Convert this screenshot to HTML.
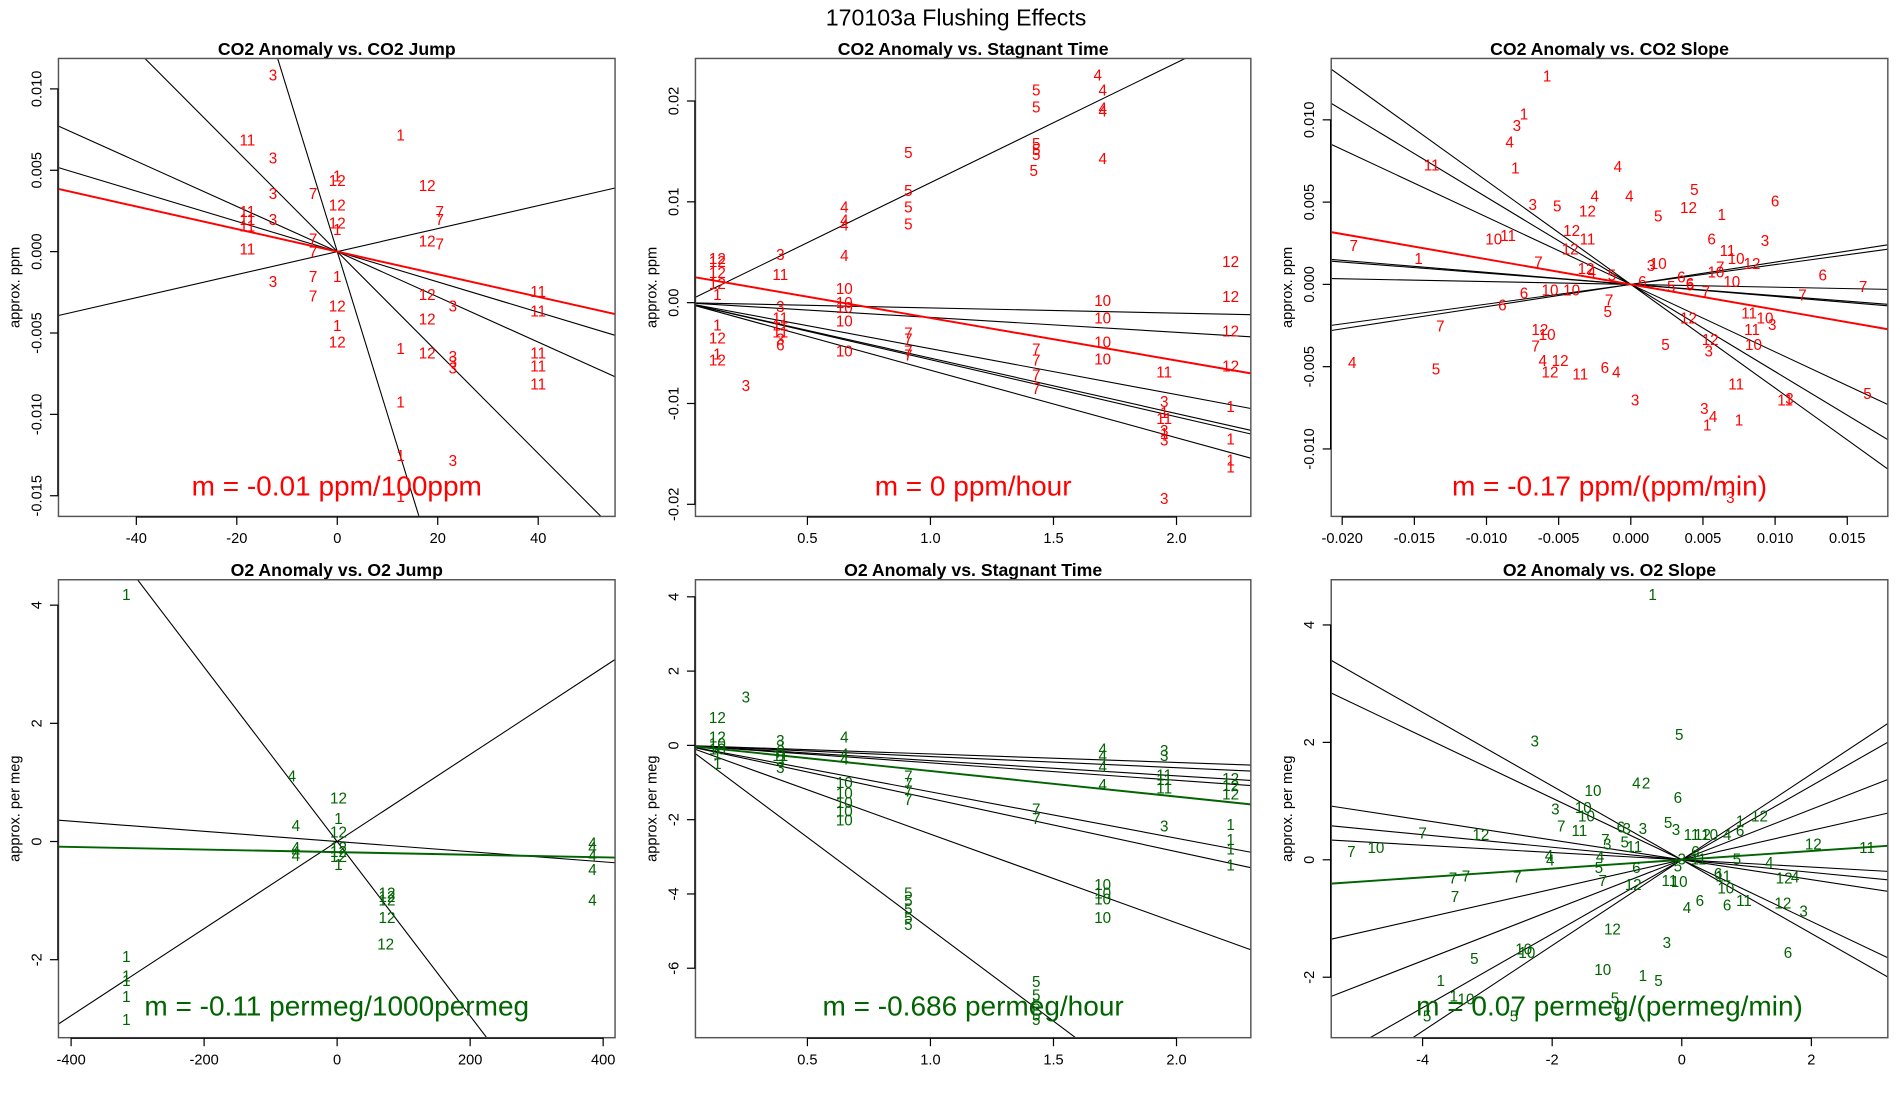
<!DOCTYPE html>
<html><head><meta charset="utf-8"><style>
html,body{margin:0;padding:0;background:#fff;overflow:hidden;width:1900px;height:1100px;}
svg{display:block;font-family:"Liberation Sans",sans-serif;}
</style></head><body>
<svg id="fig" width="1900" height="1100" viewBox="0 0 1560 903.16" preserveAspectRatio="none" xmlns="http://www.w3.org/2000/svg">
<rect width="1560" height="904" fill="#fff"/>
<text x="785" y="21" font-size="19" text-anchor="middle">170103a   Flushing Effects</text>
</svg>
<script>
// ---------- Panel 1: CO2 Anomaly vs CO2 Jump ----------
const p1x=[-12.8,-17.9,-12.8,12.6,0,0,-12.8,-4.8,17.9,0,20.4,20.4,-17.9,-17.9,-17.9,-12.8,0,0,-4.8,17.9,20.4,-4.8,-17.9,-12.8,-4.8,0,-4.8,17.9,0,23,40,40,17.9,0,0,12.6,17.9,23,23,23,40,40,40,12.6,12.6,23,12.6];
const p1y=[.0108,.0068,.0057,.0071,.0046,.0043,.0035,.0035,.004,.0028,.0024,.0019,.0024,.0019,.0015,.0019,.0017,.0013,.0007,.0006,.0004,-.0001,.0001,-.0019,-.0016,-.0016,-.0028,-.0027,-.0034,-.0034,-.0025,-.0037,-.0042,-.0046,-.0056,-.006,-.0063,-.0065,-.0068,-.0072,-.0063,-.0071,-.0082,-.0093,-.0126,-.0129,-.0151];
const p1lab=["3","11","3","1","1","12","3","7","12","12","7","7","11","11","11","3","12","1","7","12","7","7","11","3","7","1","7","12","12","3","11","11","12","1","12","1","12","3","3","3","11","11","11","1","1","3","1"];
const p1slopes=[-0.00031,-0.001,-0.000139,-0.000093,0.0000707];
const p1fit=[-0.0000694,0];
// ---------- Panel 2: CO2 Anomaly vs Stagnant Time ----------
const p2x=[1.68,1.70,1.43,1.43,1.70,1.70,.91,1.43,1.43,1.43,1.70,1.42,.91,.65,.91,.65,.65,.91,.65,.134,.134,.134,.134,.134,.39,.39,.65,.65,.65,.65,.65,.39,.39,.39,.39,.39,.39,.134,.134,.134,.134,.25,.91,.91,.91,.91,1.43,1.43,1.43,1.43,1.70,1.70,1.70,1.70,2.22,2.22,2.22,2.22,1.95,1.95,1.95,1.95,1.95,1.95,1.95,2.22,2.22,2.22,2.22,1.95];
const p2y=[.0225,.021,.021,.0193,.0192,.0189,.0148,.0157,.0151,.0146,.0142,.013,.011,.0094,.0094,.0081,.0076,.0077,.0046,.0043,.004,.0029,.0018,.0007,.0047,.0027,.0013,-.0001,-.0006,-.0019,-.0049,-.0005,-.0016,-.0023,-.003,-.0037,-.0043,-.0023,-.0036,-.0052,-.0058,-.0083,-.0031,-.0037,-.0049,-.0053,-.0047,-.0058,-.0073,-.0086,.0001,-.0016,-.004,-.0057,.004,.0005,-.0029,-.0064,-.007,-.0099,-.011,-.0116,-.0128,-.0131,-.0137,-.0104,-.0136,-.0157,-.0164,-.0195];
const p2lab=["4","4","5","5","4","4","5","5","5","5","4","5","5","4","5","4","4","5","4","12","12","12","12","1","3","11","10","10","10","10","10","3","11","11","11","3","6","1","12","1","12","3","7","7","7","7","7","7","7","7","10","10","10","10","12","12","12","12","11","3","1","11","3","1","3","1","1","1","1","3"];
const p2slopes=[0.0119,-0.00052,-0.00147,-0.00456,-0.00566,-0.0055,-0.0067];
const p2fit=[-0.00422,0.0027];
// ---------- Panel 3: CO2 Anomaly vs CO2 Slope ----------
const p3x=[-.0058,-.0074,-.0079,-.0084,-.0138,-.008,-.0009,.0044,.01,-.0068,-.0051,-.0025,-.0001,-.003,.0019,.004,.0063,-.0041,-.003,-.0042,-.0095,-.0085,.0056,.0093,.0067,.0073,.0084,-.0064,-.0031,-.0027,-.0013,.0014,.0019,.0008,.0035,.0041,.0041,.0028,.0059,.0062,.007,.0052,-.0147,-.0192,.0133,.0161,.0119,-.0056,-.0041,-.0074,-.0089,-.0015,-.0016,.004,-.0132,-.0063,-.0058,-.0066,.0082,.0093,.0098,.0084,.0055,.0085,.0024,.0054,-.0193,-.0135,-.0061,-.0049,-.0056,-.0035,-.0018,-.001,.0073,.011,.0107,.0164,.0003,.0051,.0057,.0053,.0075,.0069];
const p3y=[.0126,.0103,.0096,.0086,.0072,.007,.0071,.0057,.005,.0048,.0047,.0053,.0053,.0044,.0041,.0046,.0042,.0032,.0027,.0021,.0027,.0029,.0027,.0026,.002,.0015,.0012,.0013,.0009,.0007,.0005,.0011,.0012,.0001,.0004,0,-.0001,-.0002,.0007,.001,.0001,-.0005,.0015,.0023,.0005,-.0002,-.0007,-.0004,-.0004,-.0006,-.0013,-.001,-.0017,-.0021,-.0026,-.0028,-.0031,-.0038,-.0018,-.0021,-.0025,-.0028,-.0034,-.0037,-.0037,-.0041,-.0048,-.0052,-.0047,-.0047,-.0054,-.0055,-.0051,-.0054,-.0061,-.007,-.0071,-.0067,-.0071,-.0076,-.0081,-.0086,-.0083,-.013];
const p3lab=["1","1","3","4","11","1","4","5","6","3","5","4","4","12","5","12","1","12","11","12","10","11","6","3","11","10","12","7","12","4","5","3","10","6","6","6","5","5","10","7","10","7","1","7","6","7","7","10","10","6","6","7","5","12","7","12","10","7","11","10","3","11","12","10","5","3","4","5","4","12","12","11","6","4","11","3","11","5","3","3","4","1","1","3"];
const p3slopes=[-0.63,-0.53,-0.41,-0.073,-0.068,-0.017,0.12,0.135];
const p3fit=[-0.153,0];
// ---------- Panel 4: O2 Anomaly vs O2 Jump ----------
const p4x=[-317,-68,2,2,-62,2,-62,-62,-62,2,2,2,2,75,75,75,75,73,384,384,384,384,384,-317,-317,-317,-317,-317];
const p4y=[4.16,1.09,.72,.37,.25,.14,-.12,-.19,-.25,-.12,-.19,-.27,-.41,-.89,-.95,-1.01,-1.3,-1.75,-.04,-.12,-.25,-.49,-1.01,-1.96,-2.29,-2.37,-2.64,-3.03];
const p4lab=["1","4","12","1","4","12","4","4","4","12","12","12","1","12","12","12","12","12","4","4","4","4","4","1","1","1","1","1"];
const p4slopes=[-0.01476,0.00737,-0.00086];
const p4fit=[-0.00022,-0.18];
// ---------- Panel 5: O2 Anomaly vs Stagnant Time ----------
const p5x=[.25,.134,.134,.134,.134,.134,.134,.39,.39,.39,.39,.39,.39,.65,.65,.65,.65,.65,.65,.65,.65,.91,.91,.91,.91,1.43,1.43,1.70,1.70,1.70,1.70,1.95,1.95,1.95,1.95,1.95,2.22,2.22,2.22,1.95,2.22,2.22,2.22,2.22,1.70,1.70,1.70,1.70,.91,.91,.91,.91,.91,1.43,1.43,1.43,1.43,1.43];
const p5y=[1.28,.72,.2,.03,-.13,-.26,-.52,.1,-.03,-.16,-.3,-.43,-.62,.2,-.26,-.39,-1.02,-1.31,-1.57,-1.8,-2.03,-.85,-1.05,-1.25,-1.48,-1.74,-2.0,-.13,-.3,-.59,-1.08,-.16,-.3,-.82,-.95,-1.18,-.92,-1.11,-1.34,-2.2,-2.16,-2.56,-2.82,-3.25,-3.77,-4.0,-4.16,-4.66,-4.0,-4.2,-4.43,-4.66,-4.85,-6.39,-6.75,-7.02,-7.28,-7.41];
const p5lab=["3","12","12","10","10","1","1","3","3","6","11","3","3","4","4","4","10","10","10","10","10","7","7","7","7","7","7","4","4","4","4","3","3","11","11","11","12","12","12","3","1","1","1","1","10","10","10","10","5","5","5","5","5","5","5","5","5","5"];
const p5slopes=[-4.95,-2.39,-1.43,-1.25,-0.47,-0.41,-0.30,-0.23];
const p5fit=[-0.69,0];
// ---------- Panel 6: O2 Anomaly vs O2 Slope ----------
const p6x=[-.45,-2.27,-.04,-1.37,-.7,-.55,-.06,-1.95,-1.52,-1.47,-1.86,-1.58,-4.0,-3.1,-.94,-.85,-.6,-.21,-.09,.15,.32,.43,.7,.9,1.2,.9,-5.1,-4.72,-1.18,-.88,-.73,-1.15,-2.05,-2.03,-1.26,.21,.26,0,-.06,.56,.85,1.35,2.03,2.86,-1.28,-.7,-3.53,-3.33,-2.54,-3.5,-1.22,-.75,-.19,-.04,.28,.64,.68,.7,.96,.08,1.58,1.75,1.56,1.88,-1.07,-.23,1.64,-3.2,-2.44,-2.39,-1.22,-.6,-.36,-3.72,-3.52,-3.33,-3.93,-2.59,-1.03,-.98];
const p6y=[4.5,2.01,2.12,1.16,1.29,1.29,1.04,.85,.87,.73,.56,.48,.44,.41,.54,.52,.52,.62,.5,.41,.41,.41,.41,.64,.73,.48,.12,.19,.33,.29,.21,.25,.06,-.02,.04,.12,0,0,-.12,-.25,0,-.06,.25,.19,-.15,-.15,-.33,-.29,-.31,-.64,-.37,-.44,-.37,-.39,-.71,-.29,-.5,-.79,-.71,-.83,-.33,-.31,-.75,-.89,-1.2,-1.43,-1.6,-1.7,-1.54,-1.6,-1.89,-1.99,-2.07,-2.07,-2.34,-2.39,-2.68,-2.68,-2.37,-2.63];
const p6lab=["1","3","5","10","4","2","6","3","10","10","7","11","7","12","6","3","3","5","3","11","12","10","4","1","12","6","7","10","7","5","11","3","4","4","4","6","11","3","5","6","5","4","12","11","5","6","7","7","7","7","7","12","11","10","6","11","10","6","11","4","12","4","12","3","12","3","6","5","10","10","10","1","5","1","1","10","5","5","5","1"];
const p6slopes=[-0.628,-0.525,-0.169,-0.107,-0.062,0.25,0.43,0.63,0.73];
const p6fit=[0.075,0];

const RED="#ff0000", GREEN="#006400";
const panels=[
 {id:"co2-jump",title:"CO2 Anomaly vs. CO2 Jump",box:[48,48,505,424],xd:[-55.5,55.3],yd:[-0.01627,0.01187],xt:[-40,-20,0,20,40],xtl:["-40","-20","0","20","40"],yt:[-0.015,-0.01,-0.005,0,0.005,0.01],ytl:["-0.015","-0.010","-0.005","0.000","0.005","0.010"],ylab:"approx. ppm",xs:p1x,ys:p1y,lab:p1lab,sl:p1slopes,fit:p1fit,col:RED,m:"m = -0.01 ppm/100ppm",my:399},
 {id:"co2-stagnant",title:"CO2 Anomaly vs. Stagnant Time",box:[571,48,1027,424],xd:[0.045,2.302],yd:[-0.0212,0.02422],xt:[0.5,1,1.5,2],xtl:["0.5","1.0","1.5","2.0"],yt:[-0.02,-0.01,0,0.01,0.02],ytl:["-0.02","-0.01","0.00","0.01","0.02"],ylab:"approx. ppm",xs:p2x,ys:p2y,lab:p2lab,sl:p2slopes,fit:p2fit,col:RED,m:"m = 0 ppm/hour",my:399},
 {id:"co2-slope",title:"CO2 Anomaly vs. CO2 Slope",box:[1093,48,1550,424],xd:[-0.02076,0.01781],yd:[-0.0141,0.01373],xt:[-0.02,-0.015,-0.01,-0.005,0,0.005,0.01,0.015],xtl:["-0.020","-0.015","-0.010","-0.005","0.000","0.005","0.010","0.015"],yt:[-0.01,-0.005,0,0.005,0.01],ytl:["-0.010","-0.005","0.000","0.005","0.010"],ylab:"approx. ppm",xs:p3x,ys:p3y,lab:p3lab,sl:p3slopes,fit:p3fit,col:RED,m:"m = -0.17 ppm/(ppm/min)",my:399},
 {id:"o2-jump",title:"O2 Anomaly vs. O2 Jump",box:[48,476,505,852],xd:[-419,417.9],yd:[-3.32,4.43],xt:[-400,-200,0,200,400],xtl:["-400","-200","0","200","400"],yt:[-2,0,2,4],ytl:["-2","0","2","4"],ylab:"approx. per meg",xs:p4x,ys:p4y,lab:p4lab,sl:p4slopes,fit:p4fit,col:GREEN,m:"m = -0.11 permeg/1000permeg",my:826},
 {id:"o2-stagnant",title:"O2 Anomaly vs. Stagnant Time",box:[571,476,1027,852],xd:[0.045,2.302],yd:[-7.87,4.46],xt:[0.5,1,1.5,2],xtl:["0.5","1.0","1.5","2.0"],yt:[-6,-4,-2,0,2,4],ytl:["-6","-4","-2","0","2","4"],ylab:"approx. per meg",xs:p5x,ys:p5y,lab:p5lab,sl:p5slopes,fit:p5fit,col:GREEN,m:"m = -0.686 permeg/hour",my:826},
 {id:"o2-slope",title:"O2 Anomaly vs. O2 Slope",box:[1093,476,1550,852],xd:[-5.41,3.18],yd:[-3.03,4.77],xt:[-4,-2,0,2],xtl:["-4","-2","0","2"],yt:[-2,0,2,4],ytl:["-2","0","2","4"],ylab:"approx. per meg",xs:p6x,ys:p6y,lab:p6lab,sl:p6slopes,fit:p6fit,col:GREEN,m:"m = 0.07 permeg/(permeg/min)",my:826}
];
const NS="http://www.w3.org/2000/svg";
const svg=document.getElementById("fig");
function mk(tag,attrs,parent){const e=document.createElementNS(NS,tag);for(const k in attrs)e.setAttribute(k,attrs[k]);(parent||svg).appendChild(e);return e;}
panels.forEach((p,pi)=>{
 const [L,T,R,B]=p.box;
 const sx=v=>L+(v-p.xd[0])/(p.xd[1]-p.xd[0])*(R-L);
 const sy=v=>B-(v-p.yd[0])/(p.yd[1]-p.yd[0])*(B-T);
 const g=mk("g",{});
 
 
 const cp=mk("clipPath",{id:"cp"+pi},g);mk("rect",{x:L,y:T,width:R-L,height:B-T},cp);
 const t=mk("text",{x:(L+R)/2,y:T-3,"font-size":14.5,"font-weight":"bold","text-anchor":"middle"},g);t.textContent=p.title;
 
 
 const plot=mk("g",{"clip-path":"url(#cp"+pi+")"},g);
 p.sl.forEach(m=>{
  const ln=mk("line",{x1:sx(p.xd[0]),y1:sy(m*p.xd[0]),x2:sx(p.xd[1]),y2:sy(m*p.xd[1]),stroke:"#000","stroke-width":0.9},plot);
  
  
 });
 const fl=mk("line",{x1:sx(p.xd[0]),y1:sy(p.fit[0]*p.xd[0]+p.fit[1]),x2:sx(p.xd[1]),y2:sy(p.fit[0]*p.xd[1]+p.fit[1]),stroke:p.col,"stroke-width":1.6},plot);
 
 
 p.xs.forEach((x,i)=>{
  const tx=mk("text",{x:sx(x),y:sy(p.ys[i]),"font-size":12.5,fill:p.col,"text-anchor":"middle","dominant-baseline":"central"},plot);
  tx.textContent=p.lab[i];
  
  
 });
 const an=mk("text",{x:(L+R)/2,y:p.my,"font-size":23,fill:p.col,"text-anchor":"middle","dominant-baseline":"central"},g);
 an.textContent=p.m;
 
 
 const fr=mk("rect",{x:L,y:T,width:R-L,height:B-T,fill:"none",stroke:"#555","stroke-width":1.2},g);
 
 
 const xa=mk("g",{},g);
 
 
 mk("line",{x1:sx(p.xt[0]),y1:B+0.5,x2:sx(p.xt[p.xt.length-1]),y2:B+0.5,stroke:"#000","stroke-width":1},xa);
 p.xt.forEach((v,i)=>{
  mk("line",{x1:sx(v),y1:B,x2:sx(v),y2:B+7,stroke:"#000","stroke-width":1},xa);
  const tl=mk("text",{x:sx(v),y:B+22,"font-size":12,"text-anchor":"middle"},xa);tl.textContent=p.xtl[i];
  
  
 });
 const ya=mk("g",{},g);
 
 
 mk("line",{x1:L-0.5,y1:sy(p.yt[0]),x2:L-0.5,y2:sy(p.yt[p.yt.length-1]),stroke:"#000","stroke-width":1},ya);
 p.yt.forEach((v,i)=>{
  mk("line",{x1:L,y1:sy(v),x2:L-7,y2:sy(v),stroke:"#000","stroke-width":1},ya);
  const yl=mk("text",{x:0,y:0,"font-size":12,"text-anchor":"middle",transform:"translate("+(L-14)+","+sy(v)+") rotate(-90)"},ya);yl.textContent=p.ytl[i];
  
  
 });
 const yt=mk("text",{x:0,y:0,"font-size":12,"text-anchor":"middle",transform:"translate("+(L-32)+","+((T+B)/2)+") rotate(-90)"},g);
 yt.textContent=p.ylab;
 
 
});
</script>
</body></html>
